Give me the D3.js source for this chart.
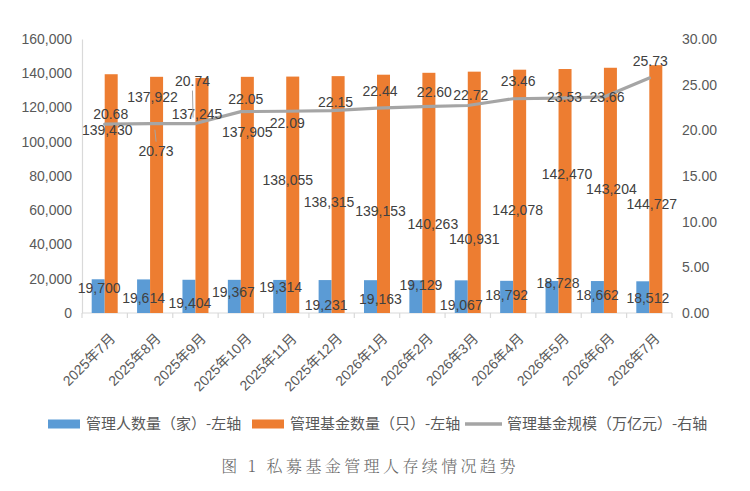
<!DOCTYPE html>
<html>
<head>
<meta charset="utf-8">
<script src="https://cdn.jsdelivr.net/npm/d3@7"></script>
<style>
  html, body { margin: 0; padding: 0; background: #fff; }
  svg text { font-family: "Liberation Sans", "Noto Sans CJK SC", sans-serif; }
</style>
</head>
<body>
<svg id="chart" width="750" height="491"></svg>
<script>
// ---- data ----
const months = ["2025年7月", "2025年8月", "2025年9月", "2025年10月", "2025年11月", "2025年12月",
  "2026年1月", "2026年2月", "2026年3月", "2026年4月", "2026年5月", "2026年6月", "2026年7月"];
const managers = [19700, 19614, 19404, 19367, 19314, 19231, 19163, 19129, 19067, 18792, 18728, 18662, 18512];
const funds = [139430, 137922, 137245, 137905, 138055, 138315, 139153, 140263, 140931, 142078, 142470, 143204, 144727];
const scale = [20.68, 20.73, 20.74, 22.05, 22.09, 22.15, 22.44, 22.60, 22.72, 23.46, 23.53, 23.66, 25.73];
const leftTicks = [0, 20000, 40000, 60000, 80000, 100000, 120000, 140000, 160000];
const rightTicks = [0, 5, 10, 15, 20, 25, 30];
const legendItems = ["管理人数量（家）-左轴", "管理基金数量（只）-左轴", "管理基金规模（万亿元）-右轴"];
const caption = "图 1  私募基金管理人存续情况趋势";

// label nudges (px) to mimic the hand-placed labels of the original
const managerNudge = [[1, 9], [0, 19], [1, 23], [-1, 12], [1, 7], [1, 25], [10, 19], [5, 5], [0, 25], [0, 14], [6, 2], [0, 14], [5, 17]];
const fundNudge = [[-4, 56], [-4, 20], [-5, 36], [0, 55], [-5, 104], [-9, 126], [-3, 136], [4, 151], [0, 167], [-2, 140], [2, 105], [1, 121], [-4, 139]];
const scaleNudge = [[6, -10], [6, 27], [-3, -42], [5, -13], [1, 12], [4, -9], [3, -17], [12, -14], [3, -10], [5, -18], [6, -1], [3, 0], [1, -17]];
const scaleLeader = [false, true, true, false, false, false, false, false, false, false, false, false, false];

const BLUE = "#5b9bd5", ORANGE = "#ed7d31", GREY = "#a5a5a5";
const AXIS_TXT = "#595959", LABEL_TXT = "#404040", AXIS_LINE = "#d9d9d9";

const svg = d3.select("#chart");
const plotL = 82, plotR = 672, plotT = 39, plotB = 313;

const x = d3.scaleBand().domain(months).range([plotL, plotR]).paddingInner(0).paddingOuter(0);
const barW = 13;
const xs = d3.scaleBand().domain(["m", "f"]).range([-barW, barW]);
const yL = d3.scaleLinear().domain([0, 160000]).range([plotB, plotT]);
const yR = d3.scaleLinear().domain([0, 30]).range([plotB, plotT]);
const cx = m => x(m) + x.bandwidth() / 2;

// ---- axes ----
const fmtL = d3.format(",");
const gL = svg.append("g").attr("transform", `translate(${plotL},0)`)
  .call(d3.axisLeft(yL).tickValues(leftTicks).tickSize(0).tickPadding(10).tickFormat(fmtL));
gL.select(".domain").attr("stroke", AXIS_LINE).attr("stroke-width", 1.2);
gL.selectAll("text").attr("fill", AXIS_TXT).attr("font-size", 14);

const gR = svg.append("g").attr("transform", `translate(${plotR},0)`)
  .call(d3.axisRight(yR).tickValues(rightTicks).tickSize(0).tickPadding(10).tickFormat(d3.format(".2f")));
gR.select(".domain").remove();
gR.selectAll("text").attr("fill", AXIS_TXT).attr("font-size", 14);

// x axis: line + boundary ticks
svg.append("line").attr("x1", plotL).attr("x2", plotR).attr("y1", plotB).attr("y2", plotB)
  .attr("stroke", AXIS_LINE).attr("stroke-width", 1.2);
svg.append("g").selectAll("line").data(months.concat(["_end"])).join("line")
  .attr("x1", (d, i) => i < months.length ? x(d) : plotR)
  .attr("x2", (d, i) => i < months.length ? x(d) : plotR)
  .attr("y1", plotB).attr("y2", plotB + 5)
  .attr("stroke", AXIS_LINE).attr("stroke-width", 1.2);

svg.append("g").selectAll("text").data(months).join("text")
  .attr("transform", d => `translate(${cx(d) + 8},${plotB + 23}) rotate(-45)`)
  .attr("text-anchor", "end").attr("dy", "0.35em")
  .attr("fill", AXIS_TXT).attr("font-size", 14)
  .text(d => d);

// ---- bars ----
svg.append("g").selectAll("rect").data(managers).join("rect")
  .attr("x", (d, i) => cx(months[i]) + xs("m"))
  .attr("y", d => yL(d)).attr("width", xs.bandwidth())
  .attr("height", d => yL(0) - yL(d)).attr("fill", BLUE);

svg.append("g").selectAll("rect").data(funds).join("rect")
  .attr("x", (d, i) => cx(months[i]) + xs("f"))
  .attr("y", d => yL(d)).attr("width", xs.bandwidth())
  .attr("height", d => yL(0) - yL(d)).attr("fill", ORANGE);

// ---- line ----
const line = d3.line().x((d, i) => cx(months[i])).y(d => yR(d));
svg.append("path").datum(scale).attr("d", line)
  .attr("fill", "none").attr("stroke", GREY).attr("stroke-width", 3.2)
  .attr("stroke-linejoin", "round").attr("stroke-linecap", "round");

// ---- data labels ----
function labels(data, ax, ay, nudge, fmt) {
  svg.append("g").selectAll("text").data(data).join("text")
    .attr("x", (d, i) => ax(d, i) + nudge[i][0])
    .attr("y", (d, i) => ay(d, i) + nudge[i][1])
    .attr("text-anchor", "middle").attr("dy", "0.35em")
    .attr("fill", LABEL_TXT).attr("font-size", 14)
    .text(fmt);
}
labels(managers, (d, i) => cx(months[i]) + xs("m") + barW / 2, d => yL(d), managerNudge, fmtL);
labels(funds, (d, i) => cx(months[i]) + xs("f") + barW / 2, d => yL(d), fundNudge, fmtL);

// leader lines for the displaced line labels
const leaderIdx = scale.map((d, i) => i).filter(i => scaleLeader[i]);
svg.append("g").selectAll("line").data(leaderIdx).join("line")
  .attr("x1", i => cx(months[i]) + scaleNudge[i][0] * 0.8)
  .attr("y1", i => yR(scale[i]) + Math.sign(scaleNudge[i][1]) * 6)
  .attr("x2", i => cx(months[i]) + scaleNudge[i][0])
  .attr("y2", i => yR(scale[i]) + scaleNudge[i][1] - Math.sign(scaleNudge[i][1]) * 9)
  .attr("stroke", GREY).attr("stroke-width", 1);
labels(scale, (d, i) => cx(months[i]), d => yR(d), scaleNudge, d3.format(".2f"));

// ---- legend ----
const legendY = 424;
const legendX = [48, 252, 465];
const legend = svg.append("g");
legendItems.forEach((t, i) => {
  const g = legend.append("g").attr("transform", `translate(${legendX[i]},${legendY})`);
  if (i < 2) {
    g.append("rect").attr("x", 0).attr("y", -4.5).attr("width", 32).attr("height", 9)
      .attr("fill", i === 0 ? BLUE : ORANGE);
  } else {
    g.append("line").attr("x1", 0).attr("x2", 37).attr("y1", 0).attr("y2", 0)
      .attr("stroke", GREY).attr("stroke-width", 3.5);
  }
  g.append("text").attr("x", i < 2 ? 38 : 42).attr("dy", "0.35em")
    .attr("fill", AXIS_TXT).attr("font-size", 15)
    .style("font-family", "'Noto Sans CJK SC', sans-serif")
    .text(t);
});

// ---- caption ----
svg.append("text").attr("x", 370).attr("y", 466).attr("text-anchor", "middle").attr("dy", "0.35em")
  .attr("fill", "#666").attr("font-size", 16).attr("letter-spacing", 3.4)
  .style("font-family", "'Noto Serif CJK SC', 'Noto Sans CJK SC', serif")
  .style("font-weight", 300)
  .text(caption);
</script>
</body>
</html>
